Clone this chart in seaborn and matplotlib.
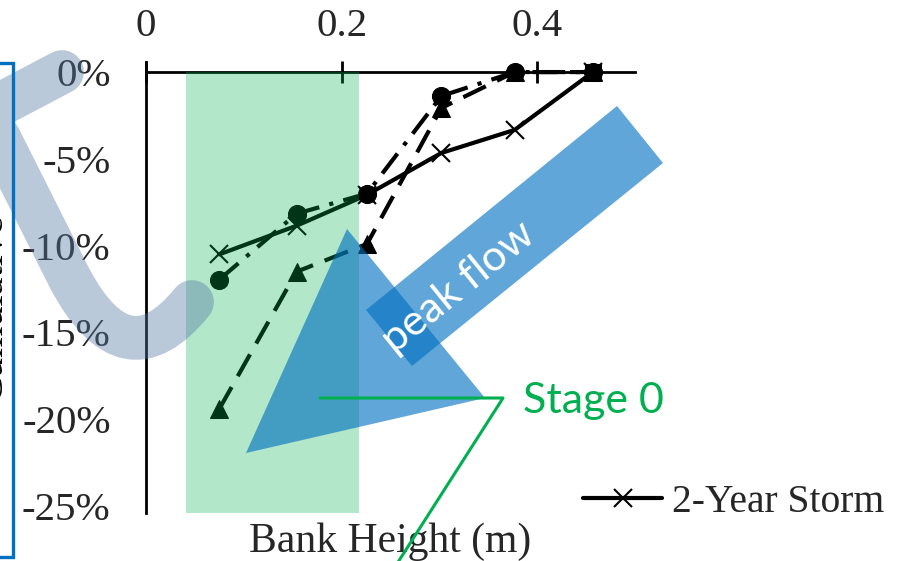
import numpy as np
import pandas as pd
import matplotlib
matplotlib.use('Agg')
import matplotlib.pyplot as plt
import seaborn as sns
from matplotlib.patches import Polygon, PathPatch, Rectangle
from matplotlib.path import Path
from matplotlib.lines import Line2D

# data (bank height in m, change in %)
bank_height = [0.075, 0.154, 0.226, 0.302, 0.377, 0.457]
storm_2yr = [-10.5, -8.85, -7.07, -4.66, -3.33, 0.0]
circle_series = [-11.95, -8.16, -7.0, -1.38, 0.0, 0.0]
triangle_series = [-19.4, -11.5, -9.9, -2.07, 0.0, 0.0]
square_x = [0.457]
square_y = [0.0]

x_ticks = [0, 0.2, 0.4]
x_ticklabels = ['0', '0.2', '0.4']
y_ticks = [0, -5, -10, -15, -20, -25]
y_ticklabels = [f'{v}%' for v in y_ticks]

stage0_band = (0.041, 0.218)

W, H = 922, 561
sns.set_style('white')
plt.rcParams['font.family'] = ['Liberation Serif', 'DejaVu Serif']
plt.rcParams['axes.unicode_minus'] = False

fig = plt.figure(figsize=(W / 100, H / 100), dpi=100)
ax = fig.add_axes([146 / W, (H - 513) / H, 489 / W, 451 / H])


def px(x, y):
    # pixel position (from top-left) -> figure fraction
    return (x / W, 1 - y / H)


# series
sns.lineplot(x=bank_height, y=storm_2yr, ax=ax, color='black', marker='x',
             markersize=13, markeredgewidth=1.5, markeredgecolor='black',
             linewidth=3, sort=False, estimator=None, label='2-Year Storm')
sns.lineplot(x=bank_height, y=circle_series, ax=ax, color='black', marker='o',
             markersize=13, markeredgecolor='black', linewidth=3,
             linestyle=(0, (6, 2.5, 1, 2.5)), sort=False, estimator=None)
sns.lineplot(x=bank_height, y=triangle_series, ax=ax, color='black', marker='^',
             markersize=13, markeredgecolor='black', linewidth=3,
             linestyle=(0, (6, 3)), sort=False, estimator=None)
sns.lineplot(x=square_x, y=square_y, ax=ax, color='black', marker='s',
             markersize=12, markeredgecolor='black', linewidth=0,
             sort=False, estimator=None)

ax.set_xlim(0, 0.5)
ax.set_ylim(-25.4, 0.58)

# axes styling: x axis runs along 0%, labels on top
ax.spines['right'].set_visible(False)
ax.spines['bottom'].set_visible(False)
ax.spines['top'].set_position(('data', 0))
ax.spines['top'].set_linewidth(2)
ax.spines['left'].set_linewidth(2)
ax.spines['top'].set_color('black')
ax.spines['left'].set_color('black')
ax.xaxis.tick_top()
ax.set_xticks(x_ticks)
ax.set_xticklabels(x_ticklabels)
ax.set_yticks(y_ticks)
ax.set_yticklabels(y_ticklabels)
ax.tick_params(axis='x', direction='inout', length=16.5, width=2, pad=11,
               labelsize=29.5, color='black')
ax.tick_params(axis='y', direction='inout', length=17, width=2, pad=17,
               labelsize=29.5, color='black')
ax.set_xlabel('Bank Height (m)', fontsize=30, labelpad=7)
ax.xaxis.set_label_position('bottom')
ax.set_ylabel('')

# green Stage 0 band over the lines
ax.add_patch(Rectangle((stage0_band[0], -25.4), stage0_band[1] - stage0_band[0], 25.4,
                       facecolor='#00B050', alpha=0.3, edgecolor='none', zorder=5))

# legend (only the first entry is visible)
handle = ax.get_lines()[0]
ax.legend(handles=[handle], labels=['2-Year Storm'], loc='center left',
          bbox_to_anchor=px(583, 502), bbox_transform=fig.transFigure,
          frameon=False, fontsize=28.5, handlelength=2.0, handletextpad=0.25,
          borderpad=0, borderaxespad=0)

# cut-off y label on the far left
fig.text(*px(10.5, 308), 'Cumulative', rotation=90, ha='right', va='center',
         fontsize=29, color='black')

# grey hook stroke
hook_verts = [px(62, 72), px(-14, 112), px(70, 279), px(126, 384), px(192, 302)]
hook_codes = [Path.MOVETO, Path.LINETO, Path.LINETO, Path.CURVE3, Path.CURVE3]
fig.add_artist(PathPatch(Path(hook_verts, hook_codes), transform=fig.transFigure,
                         fill=False, edgecolor=(0.33, 0.47, 0.64), alpha=0.4,
                         linewidth=31.5, capstyle='round', joinstyle='round'))

# blue outline box at the left edge
fig.add_artist(Polygon([px(-60, 63), px(13, 63), px(13, 557), px(-60, 557)],
                       closed=True, fill=False, edgecolor='#0070C0', linewidth=2.4,
                       transform=fig.transFigure))

# Stage 0 callout line (under the triangle)
fig.add_artist(Line2D(*zip(px(320, 398), px(503, 398), px(393, 570)),
                      transform=fig.transFigure, color='#00B050', linewidth=2.2))

# blue triangle and peak flow banner
fig.add_artist(Polygon([px(347, 229), px(246, 453), px(485, 398)], closed=True,
                       facecolor='#0070C0', alpha=0.62, edgecolor='none',
                       transform=fig.transFigure))
fig.add_artist(Polygon([px(366, 310), px(617, 106), px(663, 163), px(412, 366)],
                       closed=True, facecolor='#0070C0', alpha=0.62, edgecolor='none',
                       transform=fig.transFigure))
fig.text(*px(458, 287), 'peak flow', rotation=39, rotation_mode='anchor',
         ha='center', va='center', color='white', fontsize=31, family=['Lato'])
fig.text(*px(523, 413), 'Stage 0', ha='left', va='baseline', color='#00B050',
         fontsize=31, family=['Lato'])

fig.savefig('out.png', dpi=100)
